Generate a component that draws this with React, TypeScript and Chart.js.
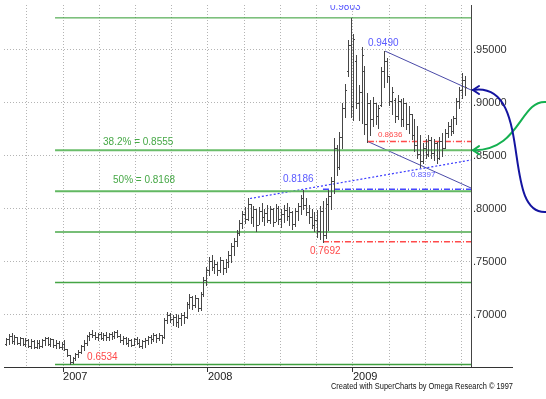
import React, { useEffect, useRef } from "react";
import { Chart, registerables } from "chart.js";

Chart.register(...registerables);

// ---- data ----
const FIRST_WEEK = 2006.607; // decimal year of the first weekly bar
const WEEK = 7 / 365.25;

const opens = [
  0.673, 0.677, 0.68, 0.675, 0.679, 0.674, 0.678, 0.673, 0.676, 0.671,
  0.675, 0.67, 0.674, 0.671, 0.676, 0.678, 0.673, 0.677, 0.672, 0.674,
  0.67, 0.673, 0.668, 0.662, 0.656, 0.659, 0.663, 0.665, 0.671, 0.674,
  0.68, 0.682, 0.681, 0.679, 0.682, 0.678, 0.681, 0.679, 0.682, 0.68,
  0.684, 0.68, 0.676, 0.678, 0.674, 0.676, 0.672, 0.677, 0.674, 0.671,
  0.675, 0.676, 0.679, 0.677, 0.681, 0.678, 0.681, 0.679, 0.695, 0.7,
  0.696, 0.698, 0.693, 0.697, 0.7, 0.698, 0.71, 0.717, 0.709, 0.716,
  0.707, 0.72, 0.733, 0.742, 0.751, 0.745, 0.748, 0.742, 0.752, 0.744,
  0.75, 0.757, 0.765, 0.77, 0.777, 0.787, 0.795, 0.791, 0.805, 0.792,
  0.8, 0.785, 0.798, 0.792, 0.796, 0.79, 0.8, 0.788, 0.801, 0.791,
  0.795, 0.799, 0.793, 0.797, 0.786, 0.798, 0.803, 0.81, 0.804, 0.797,
  0.792, 0.785, 0.79, 0.779, 0.798, 0.775, 0.805, 0.812, 0.826, 0.858,
  0.84, 0.868, 0.895, 0.93, 0.955, 0.897, 0.94, 0.9, 0.91, 0.93,
  0.88, 0.9, 0.885, 0.9, 0.888, 0.898, 0.93, 0.94, 0.925, 0.902,
  0.903, 0.888, 0.902, 0.885, 0.9, 0.88, 0.89, 0.87, 0.86, 0.852,
  0.845, 0.858, 0.852, 0.865, 0.853, 0.862, 0.848, 0.864, 0.858, 0.872,
  0.878, 0.874, 0.886, 0.902, 0.912, 0.922,
];
const highs = [
  0.678, 0.682, 0.6827, 0.681, 0.6795, 0.6795, 0.678, 0.678, 0.677, 0.677,
  0.6764, 0.6764, 0.676, 0.677, 0.6795, 0.679, 0.678, 0.677, 0.676, 0.675,
  0.6748, 0.6764, 0.668, 0.662, 0.66, 0.664, 0.667, 0.672, 0.676, 0.681,
  0.684, 0.6858, 0.684, 0.683, 0.684, 0.6827, 0.684, 0.6827, 0.684, 0.685,
  0.6858, 0.682, 0.68, 0.679, 0.678, 0.677, 0.678, 0.6795, 0.677, 0.676,
  0.678, 0.68, 0.681, 0.6827, 0.682, 0.683, 0.681, 0.697, 0.703, 0.702,
  0.7, 0.701, 0.7, 0.702, 0.703, 0.712, 0.72, 0.718, 0.719, 0.716,
  0.722, 0.736, 0.745, 0.755, 0.757, 0.752, 0.75, 0.755, 0.752, 0.753,
  0.76, 0.768, 0.773, 0.78, 0.79, 0.798, 0.802, 0.81, 0.805, 0.803,
  0.8, 0.802, 0.806, 0.8, 0.804, 0.803, 0.801, 0.805, 0.803, 0.8,
  0.804, 0.806, 0.802, 0.798, 0.801, 0.806, 0.813, 0.818, 0.81, 0.804,
  0.8, 0.797, 0.799, 0.803, 0.808, 0.81, 0.818, 0.83, 0.867, 0.86,
  0.873, 0.9, 0.918, 0.959, 0.9803, 0.965, 0.945, 0.917, 0.953, 0.935,
  0.909, 0.903, 0.906, 0.9, 0.898, 0.934, 0.949, 0.942, 0.925, 0.915,
  0.905, 0.908, 0.904, 0.905, 0.9, 0.897, 0.89, 0.885, 0.878, 0.87,
  0.862, 0.866, 0.87, 0.868, 0.866, 0.863, 0.868, 0.872, 0.875, 0.882,
  0.885, 0.888, 0.905, 0.915, 0.928, 0.925,
];
const lows = [
  0.6717, 0.673, 0.6733, 0.673, 0.6725, 0.672, 0.6717, 0.671, 0.6701, 0.669,
  0.6686, 0.669, 0.6686, 0.67, 0.672, 0.6717, 0.671, 0.67, 0.6686, 0.6686,
  0.668, 0.667, 0.661, 0.6534, 0.6544, 0.6575, 0.66, 0.6638, 0.667, 0.672,
  0.676, 0.679, 0.677, 0.676, 0.677, 0.676, 0.6764, 0.676, 0.677, 0.678,
  0.679, 0.6748, 0.673, 0.6725, 0.671, 0.6705, 0.6717, 0.6725, 0.67, 0.6686,
  0.67, 0.673, 0.674, 0.675, 0.6748, 0.676, 0.6733, 0.678, 0.692, 0.693,
  0.691, 0.69, 0.689, 0.691, 0.692, 0.697, 0.707, 0.706, 0.708, 0.704,
  0.705, 0.718, 0.728, 0.738, 0.742, 0.74, 0.738, 0.741, 0.739, 0.741,
  0.745, 0.75, 0.757, 0.765, 0.775, 0.782, 0.787, 0.79, 0.787, 0.784,
  0.779, 0.786, 0.789, 0.785, 0.788, 0.787, 0.784, 0.789, 0.786, 0.783,
  0.788, 0.79, 0.785, 0.781, 0.784, 0.79, 0.795, 0.8, 0.794, 0.787,
  0.782, 0.779, 0.774, 0.772, 0.7692, 0.773, 0.78, 0.8, 0.815, 0.832,
  0.838, 0.858, 0.887, 0.925, 0.887, 0.884, 0.895, 0.884, 0.881, 0.871,
  0.8636, 0.87, 0.878, 0.88, 0.876, 0.897, 0.915, 0.92, 0.898, 0.89,
  0.882, 0.885, 0.878, 0.878, 0.875, 0.872, 0.866, 0.855, 0.848, 0.8397,
  0.843, 0.848, 0.85, 0.848, 0.846, 0.843, 0.847, 0.85, 0.858, 0.868,
  0.87, 0.872, 0.88, 0.895, 0.905, 0.908,
];
const closes = [
  0.677, 0.68, 0.675, 0.679, 0.674, 0.678, 0.673, 0.676, 0.671, 0.675,
  0.67, 0.674, 0.671, 0.676, 0.678, 0.673, 0.677, 0.672, 0.674, 0.67,
  0.673, 0.668, 0.662, 0.656, 0.659, 0.663, 0.665, 0.671, 0.674, 0.68,
  0.682, 0.681, 0.679, 0.682, 0.678, 0.681, 0.679, 0.682, 0.68, 0.684,
  0.68, 0.676, 0.678, 0.674, 0.676, 0.672, 0.677, 0.674, 0.671, 0.675,
  0.676, 0.679, 0.677, 0.681, 0.678, 0.681, 0.679, 0.695, 0.7, 0.696,
  0.698, 0.693, 0.697, 0.7, 0.698, 0.71, 0.717, 0.709, 0.716, 0.707,
  0.72, 0.733, 0.742, 0.751, 0.745, 0.748, 0.742, 0.752, 0.744, 0.75,
  0.757, 0.765, 0.77, 0.777, 0.787, 0.795, 0.791, 0.805, 0.792, 0.8,
  0.785, 0.798, 0.792, 0.796, 0.79, 0.8, 0.788, 0.801, 0.791, 0.795,
  0.799, 0.793, 0.797, 0.786, 0.798, 0.803, 0.81, 0.804, 0.797, 0.792,
  0.785, 0.79, 0.779, 0.798, 0.775, 0.805, 0.812, 0.826, 0.858, 0.84,
  0.868, 0.895, 0.912, 0.955, 0.897, 0.96, 0.9, 0.91, 0.945, 0.88,
  0.9, 0.885, 0.9, 0.888, 0.895, 0.93, 0.94, 0.925, 0.902, 0.91,
  0.888, 0.902, 0.885, 0.9, 0.88, 0.89, 0.87, 0.86, 0.852, 0.845,
  0.858, 0.852, 0.865, 0.853, 0.862, 0.848, 0.864, 0.858, 0.872, 0.878,
  0.874, 0.886, 0.902, 0.912, 0.922, 0.915,
];
const barDates = highs.map((_, i) => FIRST_WEEK + i * WEEK);

// axis ranges and ticks
const X_MIN = 2006.593;
const X_MAX = 2009.814;
const Y_MIN = 0.65094;
const Y_MAX = 0.99245;
const X_STEP = 0.25; // quarterly grid
const Y_STEP = 0.05;

// Fibonacci retracement of the 0.6534 -> 0.9803 move
const FIB_HIGH = 0.9803;
const FIB_LOW = 0.6534;
const fibRatios = [0, 0.382, 0.5, 0.618, 0.764, 1];
const fibColors = ["#2f9a2f", "#6abd6a", "#62b862", "#4aa84a", "#45a545", "#3f9f3f"];
const fibWidths = [1, 2, 2, 1.5, 1.5, 1.5];
const FIB_START = 2006.945;

// trend lines [year, value]
const channelUpper = [[2009.221, 0.949], [X_MAX, 0.9123]];
const channelLower = [[2009.103, 0.8636], [X_MAX, 0.8198]];
const supportLine = [[2008.29, 0.8099], [X_MAX, 0.8462]];
const levelValues = [0.8186, 0.7692, 0.8636];
const levelStarts = [2008.793, 2008.793, 2009.103];
const levelColors = ["#4646ff", "#ff4a4a", "#ff4a4a"];

// text annotations
const noteTexts = ["0.9803", "0.9490", "0.8186", "0.8636", "0.8397", "38.2% = 0.8555", "50% = 0.8168", "0.7692", "0.6534"];
const noteYears = [2008.841, 2009.103, 2008.517, 2009.172, 2009.4, 2007.276, 2007.345, 2008.703, 2007.166];
const noteValues = [0.9901, 0.9566, 0.8283, 0.8698, 0.8321, 0.8632, 0.8274, 0.7604, 0.6604];
const noteColors = ["#5a5aff", "#5a5aff", "#5a5aff", "#ff4a4a", "#5a5aff", "#46a846", "#46a846", "#ff4a4a", "#ff4a4a"];
const noteSizes = [10, 10, 10, 8, 8, 10, 10, 10, 10];

// curved arrows pointing at the chart's right edge
const arrowTipValues = [0.8555, 0.9123];
const arrowEndValues = [0.901, 0.7972];
const arrowColors = ["#14b050", "#1414a0"];

const CREDIT = "Created with SuperCharts by Omega Research \u00a9 1997";
const FONT = '"Liberation Sans", Arial, sans-serif';

const isYear = (v: number) => Math.abs(v - Math.round(v)) < 1e-6;

const ohlcPlugin = {
  id: "ohlcBars",
  afterDatasetsDraw(chart: any) {
    const { ctx, chartArea } = chart;
    const xs = chart.scales.x;
    const ys = chart.scales.y;
    ctx.save();
    ctx.beginPath();
    ctx.rect(chartArea.left, chartArea.top, chartArea.right - chartArea.left, chartArea.bottom - chartArea.top);
    ctx.clip();
    ctx.strokeStyle = "#464646";
    ctx.lineWidth = 1;
    ctx.beginPath();
    for (let i = 0; i < highs.length; i++) {
      const c = Math.round(xs.getPixelForValue(barDates[i]));
      const ph = Math.round(ys.getPixelForValue(highs[i]));
      const pl = Math.round(ys.getPixelForValue(lows[i]));
      const po = Math.round(ys.getPixelForValue(opens[i]));
      const pc = Math.round(ys.getPixelForValue(closes[i]));
      ctx.moveTo(c + 0.5, ph);
      ctx.lineTo(c + 0.5, pl + 1);
      ctx.moveTo(c - 1, po + 0.5);
      ctx.lineTo(c, po + 0.5);
      ctx.moveTo(c + 1, pc + 0.5);
      ctx.lineTo(c + 2, pc + 0.5);
    }
    ctx.stroke();
    ctx.restore();
  },
};

const notesPlugin = {
  id: "notes",
  afterDraw(chart: any) {
    const { ctx, chartArea } = chart;
    const xs = chart.scales.x;
    const ys = chart.scales.y;
    // text annotations (clipped to the plot)
    ctx.save();
    ctx.beginPath();
    ctx.rect(chartArea.left, chartArea.top, chartArea.right - chartArea.left, chartArea.bottom - chartArea.top);
    ctx.clip();
    ctx.textAlign = "left";
    ctx.textBaseline = "middle";
    for (let i = 0; i < noteTexts.length; i++) {
      ctx.fillStyle = noteColors[i];
      ctx.font = `${noteSizes[i]}px ${FONT}`;
      ctx.fillText(noteTexts[i], xs.getPixelForValue(noteYears[i]), ys.getPixelForValue(noteValues[i]));
    }
    ctx.restore();

    // extension of the time axis under the price scale
    ctx.save();
    ctx.strokeStyle = "#333";
    ctx.lineWidth = 1;
    ctx.beginPath();
    ctx.moveTo(chartArea.right, chartArea.bottom + 0.5);
    ctx.lineTo(chartArea.right + 42, chartArea.bottom + 0.5);
    ctx.stroke();
    ctx.restore();

    // curved arrows
    const r = chartArea.right;
    const shapes = [
      // green: tip, c1, c2, end
      (t: number, e: number) => [[r + 2, t], [r + 49, t + 1], [r + 49, e - 2], [r + 75, e]],
      // blue
      (t: number, e: number) => [[r + 2, t], [r + 64, t - 9], [r + 29, e + 3], [r + 75, e]],
    ];
    for (let k = 0; k < arrowTipValues.length; k++) {
      const t = ys.getPixelForValue(arrowTipValues[k]);
      const e = ys.getPixelForValue(arrowEndValues[k]);
      const p = shapes[k](t, e);
      ctx.save();
      ctx.strokeStyle = arrowColors[k];
      ctx.lineWidth = 2;
      ctx.lineCap = "round";
      ctx.beginPath();
      ctx.moveTo(p[0][0], p[0][1]);
      ctx.bezierCurveTo(p[1][0], p[1][1], p[2][0], p[2][1], p[3][0], p[3][1]);
      ctx.stroke();
      ctx.beginPath();
      ctx.moveTo(p[0][0] + 6, p[0][1] - 4);
      ctx.lineTo(p[0][0], p[0][1]);
      ctx.lineTo(p[0][0] + 6, p[0][1] + 4);
      ctx.stroke();
      ctx.restore();
    }

    // credit line
    ctx.save();
    ctx.fillStyle = "#111";
    ctx.font = `8.5px ${FONT}`;
    ctx.textAlign = "right";
    ctx.textBaseline = "middle";
    ctx.fillText(CREDIT, chartArea.right + 42, chartArea.bottom + 20, 182);
    ctx.restore();
  },
};

function seg(points: number[][]) {
  return points.map(([x, y]) => ({ x, y }));
}

export default function App() {
  const ref = useRef<HTMLCanvasElement | null>(null);

  useEffect(() => {
    if (!ref.current) return;
    const datasets: any[] = [];
    datasets.push({
      label: "Close",
      data: closes.map((c, i) => ({ x: barDates[i], y: c })),
      showLine: false,
      pointRadius: 0,
    });
    fibRatios.forEach((ratio, k) => {
      const v = FIB_HIGH - ratio * (FIB_HIGH - FIB_LOW);
      datasets.push({
        label: `Fib ${ratio}`,
        data: seg([[FIB_START, v], [X_MAX, v]]),
        borderColor: fibColors[k],
        borderWidth: fibWidths[k],
        pointRadius: 0,
      });
    });
    levelValues.forEach((v, k) => {
      datasets.push({
        label: `Level ${v}`,
        data: seg([[levelStarts[k], v], [X_MAX, v]]),
        borderColor: levelColors[k],
        borderWidth: 1.5,
        borderDash: [6, 2, 1, 2],
        pointRadius: 0,
      });
    });
    datasets.push({
      label: "Channel top",
      data: seg(channelUpper),
      borderColor: "#4a4aa8",
      borderWidth: 1,
      pointRadius: 0,
    });
    datasets.push({
      label: "Channel bottom",
      data: seg(channelLower),
      borderColor: "#4a4aa8",
      borderWidth: 1,
      pointRadius: 0,
    });
    datasets.push({
      label: "Support",
      data: seg(supportLine),
      borderColor: "#3a3aff",
      borderWidth: 1.2,
      borderDash: [2, 2],
      pointRadius: 0,
    });

    const chart = new Chart(ref.current, {
      type: "line",
      data: { datasets },
      options: {
        animation: false,
        responsive: false,
        maintainAspectRatio: false,
        events: [],
        layout: { padding: { left: 4, top: 5, right: 0, bottom: 0 } },
        plugins: {
          legend: { display: false },
          tooltip: { enabled: false },
          title: { display: false },
        },
        scales: {
          x: {
            type: "linear",
            min: X_MIN,
            max: X_MAX,
            afterFit(s: any) {
              s.height = 32;
              s.paddingLeft = 0;
              s.paddingRight = 0;
            },
            ticks: {
              stepSize: X_STEP,
              includeBounds: false,
              autoSkip: false,
              maxRotation: 0,
              minRotation: 0,
              align: "start",
              padding: -2,
              color: "#1a1a1a",
              font: { family: FONT, size: 11 },
              callback: (v: any) => (isYear(Number(v)) ? String(Math.round(Number(v))) : ""),
            },
            grid: {
              color: "#b4b4b4",
              lineWidth: 1,
              drawTicks: true,
              tickLength: 5,
              tickWidth: 1,
              tickColor: (c: any) => (c.tick && isYear(c.tick.value) ? "#333" : "rgba(0,0,0,0)"),
            },
            border: { display: true, color: "#333", width: 1, dash: [1, 2] },
          },
          y: {
            type: "linear",
            position: "right",
            min: Y_MIN,
            max: Y_MAX,
            afterFit(s: any) {
              s.width = 75;
              s.paddingTop = 0;
              s.paddingBottom = 0;
            },
            ticks: {
              stepSize: Y_STEP,
              includeBounds: false,
              padding: 2,
              color: "#333",
              font: { family: FONT, size: 11 },
              callback: (v: any) => Number(v).toFixed(5).slice(1),
            },
            grid: { color: "#b4b4b4", lineWidth: 1, drawTicks: false },
            border: { display: true, color: "#444", width: 1, dash: [1, 2] },
          },
        },
      },
      plugins: [ohlcPlugin, notesPlugin],
    } as any);
    return () => chart.destroy();
  }, []);

  return (
    <div style={{ position: "absolute", left: 0, top: 0, width: 546, height: 399, background: "#fff" }}>
      <canvas ref={ref} width={546} height={399} style={{ display: "block" }} />
    </div>
  );
}
